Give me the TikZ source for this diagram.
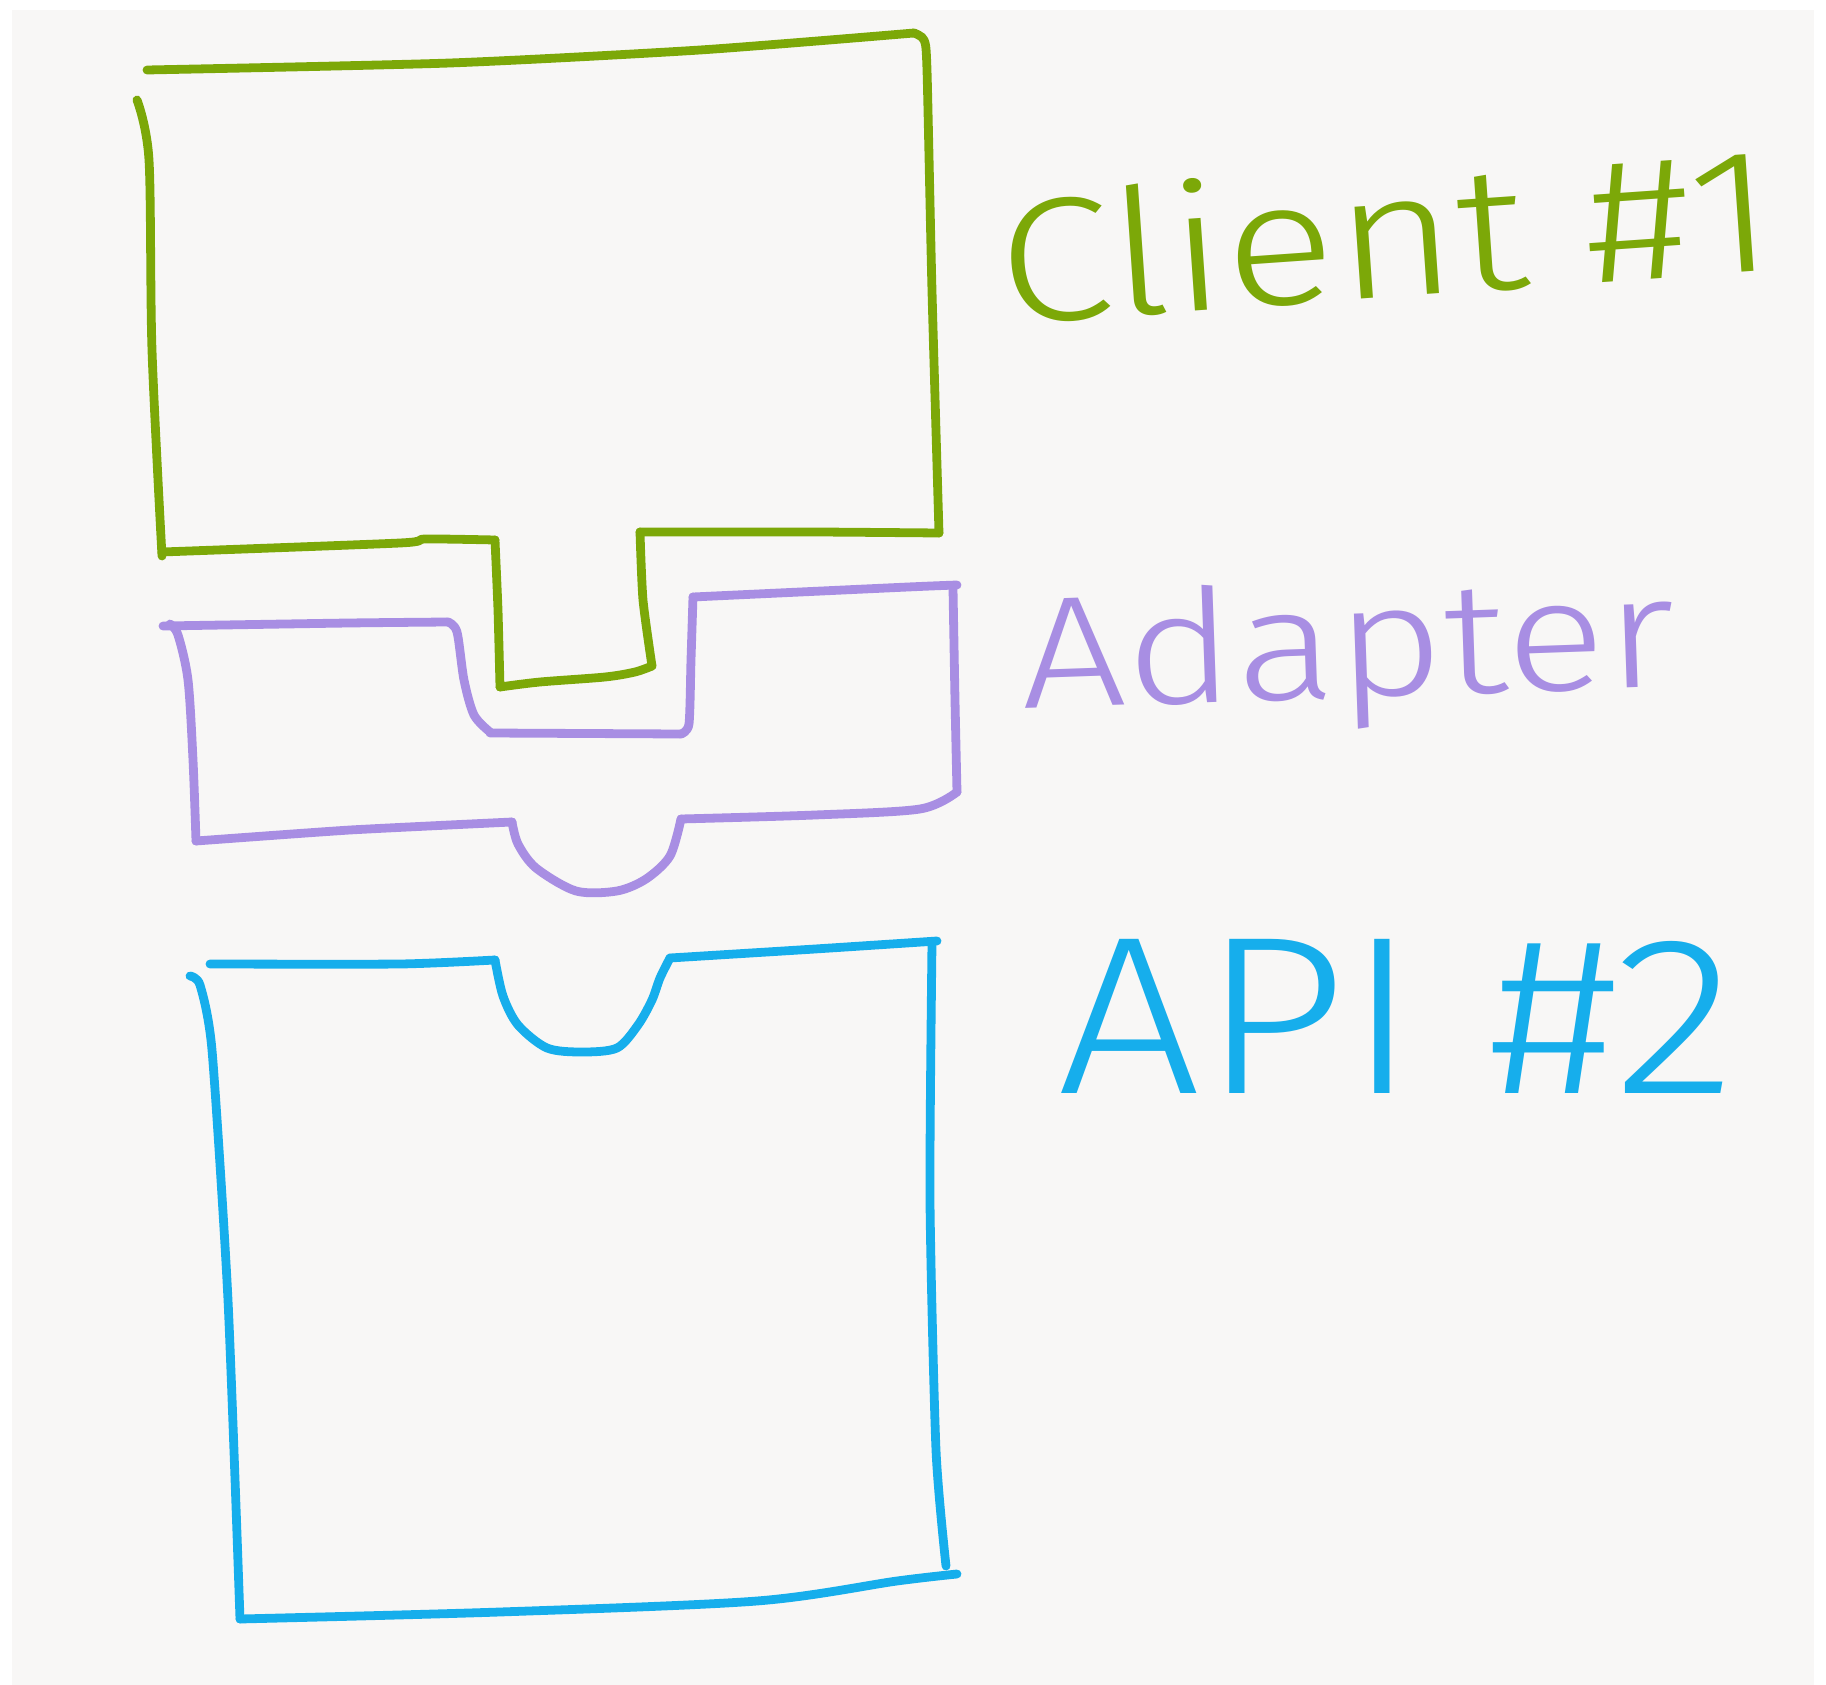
\documentclass[tikz,border=0pt]{standalone}
\usepackage{fontspec}
\newfontfamily\handfont{Fira Sans Light}
\begin{document}
\begin{tikzpicture}[x=0.01cm,y=-0.01cm,
  pen/.style={line width=2.5pt,line cap=round,line join=round},
  label/.style={font=\handfont,inner sep=0pt,anchor=center}]
\definecolor{paper}{RGB}{248,247,246}
\definecolor{clientgreen}{RGB}{124,168,8}
\definecolor{adapterpurple}{RGB}{168,142,227}
\definecolor{apiblue}{RGB}{22,174,236}
% page and sheet of paper
\fill[white] (0,0) rectangle (1826,1685);
\useasboundingbox (0,0) rectangle (1826,1685);
\fill[paper] (12,10) rectangle (1814,1685);

% Client #1: box with a tab sticking down
\draw[pen,clientgreen] plot[smooth,tension=0.4] coordinates
  {(147,70) (450,63) (700,50) (914,33)};
\draw[pen,clientgreen] plot[smooth,tension=0.4] coordinates
  {(914,33) (924,40) (927,70) (932,291) (939,533)};
\draw[pen,clientgreen] plot[smooth,tension=0.3] coordinates
  {(939,533) (815,532) (640,532)};
\draw[pen,clientgreen] plot[smooth,tension=0.4] coordinates
  {(640,532) (643,600) (652,666)};
\draw[pen,clientgreen] plot[smooth,tension=0.5] coordinates
  {(652,666) (635,672) (605,677) (540,682) (500,687)};
\draw[pen,clientgreen] plot[smooth,tension=0.3] coordinates
  {(500,687) (498,610) (495,540)};
\draw[pen,clientgreen] plot[smooth,tension=0.4] coordinates
  {(495,540) (425,539) (400,543) (162,552)};
\draw[pen,clientgreen] plot[smooth,tension=0.5] coordinates
  {(162,556) (152,350) (149,160) (137,100)};

% Adapter: socket on top, plug below
\draw[pen,adapterpurple] plot[smooth,tension=0.4] coordinates
  {(163,626) (349,623) (448,622)};
\draw[pen,adapterpurple] plot[smooth,tension=0.5] coordinates
  {(448,622) (457,632) (464,680) (474,715) (490,732)};
\draw[pen,adapterpurple] (490,733) -- (681,734);
\draw[pen,adapterpurple] plot[smooth,tension=0.4] coordinates
  {(681,734) (689,724) (691,660) (693,597)};
\draw[pen,adapterpurple] plot[smooth,tension=0.4] coordinates
  {(693,597) (908,587) (957,585)};
\draw[pen,adapterpurple] plot[smooth,tension=0.4] coordinates
  {(953,588) (955,700) (957,792)};
\draw[pen,adapterpurple] plot[smooth,tension=0.5] coordinates
  {(957,792) (920,809) (815,815) (681,819)};
\draw[pen,adapterpurple] plot[smooth,tension=0.5] coordinates
  {(681,819) (670,856) (646,879) (617,891) (576,891) (536,868) (518,844) (512,822)};
\draw[pen,adapterpurple] plot[smooth,tension=0.3] coordinates
  {(512,822) (350,830) (196,841)};
\draw[pen,adapterpurple] plot[smooth,tension=0.5] coordinates
  {(196,841) (193,760) (188,680) (178,635) (170,624)};

% API #2: box with a slot for the plug
\draw[pen,apiblue] plot[smooth,tension=0.4] coordinates
  {(210,964) (400,964) (495,960)};
\draw[pen,apiblue] plot[smooth,tension=0.5] coordinates
  {(495,960) (503,996) (518,1025) (547,1048) (582,1052) (617,1048) (638,1025) (652,1000) (660,978) (670,958)};
\draw[pen,apiblue] plot[smooth,tension=0.4] coordinates
  {(670,958) (815,949) (937,941)};
\draw[pen,apiblue] plot[smooth,tension=0.4] coordinates
  {(932,943) (930,1200) (936,1450) (946,1566)};
\draw[pen,apiblue] plot[smooth,tension=0.5] coordinates
  {(957,1574) (897,1581) (757,1601) (500,1612) (240,1619)};
\draw[pen,apiblue] plot[smooth,tension=0.4] coordinates
  {(240,1619) (228,1300) (212,1050) (200,985) (190,976)};

% labels
\node[label,text=clientgreen,rotate=4,xscale=1.18,font=\handfont\fontsize{50}{50}\selectfont] (client) at (1386,232) {Client \#1};
\node[label,text=adapterpurple,rotate=2,xscale=1.18,font=\handfont\fontsize{45}{45}\selectfont] (adapter) at (1348,655) {Adapter};
\node[label,text=apiblue,xscale=1.13,font=\handfont\fontsize{64}{64}\selectfont] (api) at (1397,1016) {API \#2};
\end{tikzpicture}
\end{document}
